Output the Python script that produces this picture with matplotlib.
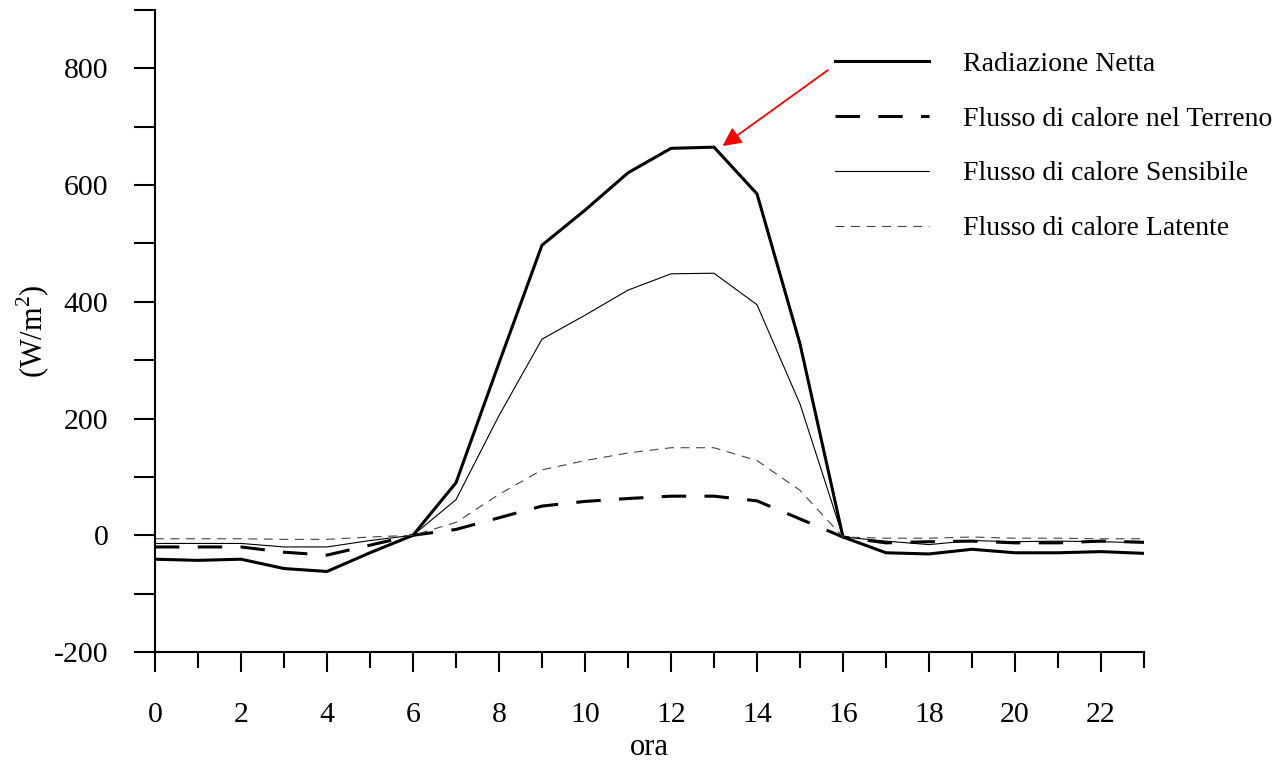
import matplotlib.pyplot as plt
from matplotlib.ticker import MultipleLocator

# hours of the day
ore = list(range(24))

# fluxes (W/m2)
radiazione_netta = [-41, -43, -41, -57, -62, -30, 0, 90, 295, 497, 557, 621, 663, 665,
                    585, 328, -3, -30, -32, -24, -30, -30, -28, -31]
flusso_terreno = [-20, -20, -20, -29, -34, -17, 0, 10, 30, 50, 58, 63, 67, 67,
                  59, 28, -3, -13, -11, -10, -13, -13, -10, -12]
flusso_sensibile = [-14, -14, -14, -20, -20, -9, 0, 61, 205, 336, 377, 420, 448, 449,
                    395, 225, -3, -10, -16, -9, -11, -10, -11, -13]
flusso_latente = [-6, -6, -6, -7, -7, -3, 0, 22, 70, 112, 128, 141, 150, 150,
                  128, 77, -3, -5, -5, -3, -5, -5, -6, -6]

etichette = ['Radiazione Netta', 'Flusso di calore nel Terreno',
             'Flusso di calore Sensibile', 'Flusso di calore Latente']


def createplot():
    plt.rcParams['font.family'] = ['Liberation Serif', 'DejaVu Serif']
    plt.rcParams['axes.unicode_minus'] = False
    plt.rcParams['mathtext.fontset'] = 'custom'
    plt.rcParams['mathtext.rm'] = 'Liberation Serif'

    fig = plt.figure(figsize=(12.87, 7.64), dpi=100)
    ax = fig.add_axes([0.1204, 0.1466, 0.7685, 0.8403])

    ax.plot(ore, radiazione_netta, color='black', lw=2.2, label=etichette[0])
    ax.plot(ore, flusso_terreno, color='black', lw=2.2, dashes=(8, 6), label=etichette[1])
    ax.plot(ore, flusso_sensibile, color='black', lw=0.8, label=etichette[2])
    ax.plot(ore, flusso_latente, color='#444444', lw=0.8, dashes=(8, 6), label=etichette[3])

    # red arrow pointing to the peak of net radiation
    ax.annotate('', xy=(13.2, 667), xytext=(15.65, 797),
                arrowprops=dict(arrowstyle='-|>', color='red', lw=1.3,
                                mutation_scale=28, shrinkA=0, shrinkB=0))

    ax.set_xlim(0, 23)
    ax.set_ylim(-200, 900)
    ax.xaxis.set_major_locator(MultipleLocator(2))
    ax.xaxis.set_minor_locator(MultipleLocator(1))
    ax.yaxis.set_major_locator(MultipleLocator(200))
    ax.yaxis.set_minor_locator(MultipleLocator(100))

    for s in ['top', 'right']:
        ax.spines[s].set_visible(False)
    for s in ['left', 'bottom']:
        ax.spines[s].set_linewidth(1.5)

    ax.tick_params(axis='x', which='major', direction='out', length=14.4, width=1.5,
                   labelsize=21.5, pad=21.5)
    ax.tick_params(axis='x', which='minor', direction='out', length=11.5, width=1.5)
    ax.tick_params(axis='y', which='both', direction='out', length=15, width=1.5,
                   labelsize=21.5, pad=18.5)

    ax.set_xlabel('ora', fontsize=22, labelpad=4)
    ax.set_ylabel(r'(W/m$^\mathrm{2}$)', fontsize=22, labelpad=1)

    ax.legend(loc='upper left', bbox_to_anchor=(0.6488, 0.933), bbox_transform=fig.transFigure,
              frameon=False, fontsize=20, handlelength=3.4, handletextpad=1.2,
              labelspacing=1.06, borderpad=0, borderaxespad=0)

    plt.savefig('out.png', dpi=100)


if __name__ == "__main__":
    createplot()
